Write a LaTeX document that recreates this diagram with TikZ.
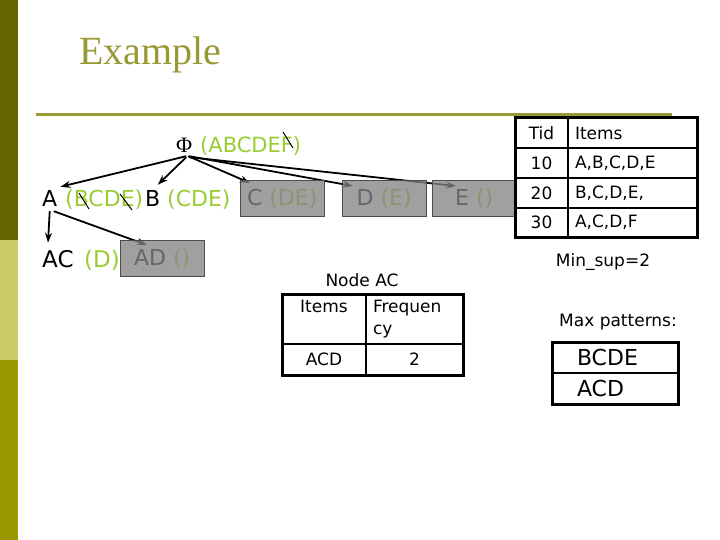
\documentclass[tikz,border=0pt]{standalone}
\usepackage{fontspec}
\setmainfont{DejaVu Sans}
\newfontfamily\titlefont{Liberation Serif}
\usetikzlibrary{arrows.meta,positioning,backgrounds}
\definecolor{darkolive}{HTML}{666600}
\definecolor{paleolive}{HTML}{CCCC66}
\definecolor{barolive}{HTML}{999900}
\definecolor{titleolive}{HTML}{999933}
\definecolor{yg}{HTML}{99CC33}
\definecolor{shadeblack}{HTML}{666666}
\definecolor{shadeyg}{HTML}{899571}
\definecolor{boxgray}{HTML}{848484}
\tikzset{
  >={Stealth[length=10pt,width=7pt]},
  item/.style   ={font=\fontsize{22}{26}\selectfont,inner sep=0pt,anchor=base west},
  cond/.style   ={item,text=yg},
  pruned/.style ={draw=black!70,fill=boxgray,fill opacity=0.77,text opacity=1,
                  minimum width=84pt,minimum height=36pt,inner sep=0pt,
                  anchor=north west,font=\fontsize{22}{26}\selectfont},
  cell/.style   ={draw,line width=2pt,outer sep=0pt,inner ysep=0pt,
                  font=\fontsize{17}{22}\selectfont},
  lbl/.style    ={font=\fontsize{17}{20}\selectfont,inner sep=0pt},
  link/.style   ={->,line width=1.8pt},
  strike/.style ={line width=1pt},
}

\begin{document}
\begin{tikzpicture}[x=1pt,y=-1pt]
\useasboundingbox (0,0) rectangle (720,540);
% ---- slide frame
\fill[darkolive] (0,0) rectangle (18,240);
\fill[paleolive] (0,240) rectangle (18,360);
\fill[barolive] (0,360) rectangle (18,540);
\node[anchor=base west,inner sep=0pt,text=titleolive,font=\titlefont\fontsize{40}{44}\selectfont] (title) at (79,65) {Example};
\draw[titleolive,line width=3pt] (36,115) -- (672,115);

% ---- enumeration tree
\node[item,font=\titlefont\fontsize{22}{26}\selectfont] (phi) at (176,153) {Φ};
\node[cond,font=\fontsize{21}{24}\selectfont] (phitail) at (200,153) {(ABCDEF)};
\node[item] (a) at (42,207) {A};
\node[cond] (atail) at (65,207) {(BCDE)};
\node[item] (b) at (145,207) {B};
\node[cond] (btail) at (167,207) {(CDE)};
\node[pruned] (c) at (240,180) {\textcolor{shadeblack}{C} \textcolor{shadeyg}{(DE)}};
\node[pruned] (d) at (342,180) {\textcolor{shadeblack}{D} \textcolor{shadeyg}{(E)}};
\node[pruned] (e) at (432,180) {\textcolor{shadeblack}{E} \textcolor{shadeyg}{()}};
\node[item,font=\fontsize{23}{26}\selectfont] (ac) at (42,267) {AC};
\node[cond,font=\fontsize{23}{26}\selectfont] (actail) at (84,267) {(D)};
\node[pruned] (ad) at (120,240) {\textcolor{shadeblack}{AD} \textcolor{shadeyg}{()}};
\begin{scope}[on background layer]
  \draw[link] ([shift={(2,3)}]phi.south) -- ([shift={(3,-4)}]a.north east);
  \draw[link] ([shift={(2,4)}]phi.south) -- ([shift={(5,-6)}]b.north);
  \draw[link] ([shift={(4,3)}]phi.south) -- ([shift={(10,3)}]c.north west);
  \draw[link] ([shift={(5,3)}]phi.south) -- ([shift={(11,6)}]d.north west);
  \draw[link] ([shift={(5,4)}]phi.south) -- ([shift={(24,6)}]e.north west);
  \draw[link] ([shift={(0,4)}]a.south) -- ([shift={(6,-7)}]ac.north west);
  \draw[link] ([shift={(4,4)}]a.south) -- ([shift={(27,5)}]ad.north west);
\end{scope}
% pruned items
\draw[strike] (283,132) -- (293,148);
\draw[strike] (79,193) -- (89,209);
\draw[strike] (120,194) -- (132,210);

% ---- transaction database
\node[cell,fill=white,text width=39pt,inner xsep=7pt,align=center,minimum height=30pt,anchor=north west] (tid0) at (515,118) {Tid};
\node[cell,fill=white,text width=115pt,inner xsep=7pt,align=left,minimum height=30pt,right=0pt of tid0] (its0) {Items};
\node[cell,fill=white,text width=39pt,inner xsep=7pt,align=center,minimum height=30pt,below=0pt of tid0] (tid1) {10};
\node[cell,fill=white,text width=115pt,inner xsep=7pt,align=left,minimum height=30pt,right=0pt of tid1] (its1) {A,B,C,D,E};
\node[cell,fill=white,text width=39pt,inner xsep=7pt,align=center,minimum height=30pt,below=0pt of tid1] (tid2) {20};
\node[cell,fill=white,text width=115pt,inner xsep=7pt,align=left,minimum height=30pt,right=0pt of tid2] (its2) {B,C,D,E,};
\node[cell,fill=white,text width=39pt,inner xsep=7pt,align=center,minimum height=29pt,below=0pt of tid2] (tid3) {30};
\node[cell,fill=white,text width=115pt,inner xsep=7pt,align=left,minimum height=29pt,right=0pt of tid3] (its3) {A,C,D,F};
\draw[line width=3pt] (tid0.north west) rectangle (its3.south east);
\node[lbl] (minsup) at (603,262) {Min\_sup=2};

% ---- node AC
\node[lbl] (nodeac) at (362,280) {Node AC};
\node[cell,text width=70pt,inner xsep=7pt,align=center,minimum height=50pt,anchor=north west] (acitems) at (282,294) {Items\\\phantom{y}};
\node[cell,text width=83pt,inner xsep=7pt,align=left,minimum height=50pt,right=0pt of acitems] (acfreq) {Frequen\\cy};
\node[cell,text width=70pt,inner xsep=7pt,align=center,minimum height=31pt,below=0pt of acitems] (acset) {ACD};
\node[cell,text width=83pt,inner xsep=7pt,align=center,minimum height=31pt,below=0pt of acfreq] (account) {2};
\draw[line width=3pt] (acitems.north west) rectangle (account.south east);

% ---- max patterns
\node[lbl] (maxlbl) at (618,322) {Max patterns:};
\node[cell,font=\fontsize{22}{26}\selectfont,text width=76pt,inner xsep=25pt,align=left,minimum height=31pt,anchor=north west] (max1) at (552,342) {BCDE};
\node[cell,font=\fontsize{22}{26}\selectfont,text width=76pt,inner xsep=25pt,align=left,minimum height=31pt,below=0pt of max1] (max2) {ACD};
\draw[line width=3pt] (max1.north west) rectangle (max2.south east);
\end{tikzpicture}
\end{document}
